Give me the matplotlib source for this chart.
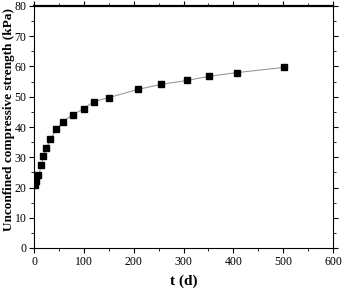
import matplotlib
matplotlib.use('Agg')
import matplotlib.pyplot as plt
from matplotlib.ticker import MultipleLocator

# curing time (d) and unconfined compressive strength (kPa)
t_days = [1.3, 5, 9, 15, 19, 25, 33, 45, 58, 78, 100, 120, 150, 208, 255, 308, 352, 408, 502]
ucs_kpa = [20.7, 22.0, 24.0, 27.3, 30.5, 33.0, 35.9, 39.2, 41.8, 44.1, 46.1, 48.4, 49.7,
           52.4, 54.1, 55.4, 56.8, 58.0, 59.7]

plt.rcParams['font.family'] = 'Liberation Serif'
plt.rcParams['font.size'] = 8

fig = plt.figure(figsize=(3.43, 2.89), dpi=100)
ax = fig.add_axes([34 / 343, 1 - 248 / 289, 299 / 343, 242 / 289])

ax.plot(t_days, ucs_kpa, color='#999999', lw=0.8, zorder=1)
ax.plot(t_days, ucs_kpa, 's', color='black', ms=4.2, zorder=2)

ax.set_xlim(0, 600)
ax.set_ylim(0, 80)
ax.xaxis.set_major_locator(MultipleLocator(100))
ax.xaxis.set_minor_locator(MultipleLocator(50))
ax.yaxis.set_major_locator(MultipleLocator(10))
ax.yaxis.set_minor_locator(MultipleLocator(5))
ax.tick_params(which='both', direction='out', top=True, right=True, labelsize=8.5)
ax.tick_params(which='major', length=3.5, width=0.8, pad=2)
ax.tick_params(which='minor', length=2, width=0.6)
for side in ax.spines.values():
    side.set_linewidth(0.8)
ax.spines['top'].set_linewidth(1.6)

ax.set_xlabel('t (d)', fontsize=11, fontweight='bold', labelpad=5)
ax.set_ylabel('Unconfined compressive strength (kPa)', fontsize=9.5, fontweight='bold')
ax.yaxis.set_label_coords(-0.064, 0.53)

fig.savefig('out.png', dpi=100)
